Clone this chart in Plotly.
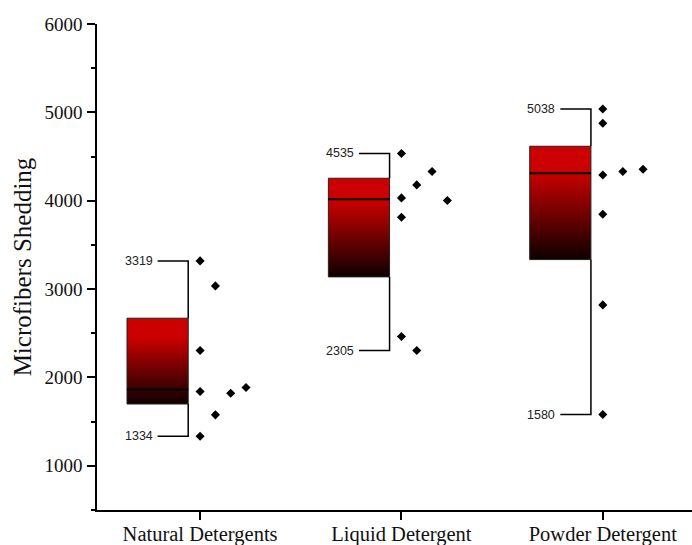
import numpy as np
import plotly.graph_objects as go

# ---- data ----
categories = ["Natural Detergents", "Liquid Detergent", "Powder Detergent"]
natural_values = [3319, 3036, 2305, 1841, 1822, 1886, 1577, 1334]
liquid_values = [4535, 4330, 4179, 4032, 4002, 3813, 2463, 2305]
powder_values = [5038, 4877, 4292, 4330, 4356, 3847, 2821, 1580]
y_ticks = [1000, 2000, 3000, 4000, 5000, 6000]

# swarm column index of each point (layout only)
natural_cols = [0, 1, 0, 0, 2, 3, 1, 0]
liquid_cols = [0, 2, 1, 0, 3, 0, 0, 1]
powder_cols = [0, 0, 0, 1.31, 2.63, 0, 0, 0]

groups = [natural_values, liquid_values, powder_values]
group_cols = [natural_cols, liquid_cols, powder_cols]

# ---- styling / layout constants ----
BOX_SHIFT = -0.211      # box centre relative to category tick
BOX_HALF = 0.152
PT_OFFSET = 0.211       # first point column relative to box centre
COL_STEP = 0.076
SERIF = "Liberation Serif, Times New Roman, serif"
SANS = "Liberation Sans, Arial, sans-serif"
GRAD = [[0, "#0e0000"], [0.78, "#cc0000"], [1, "#cc0000"]]


def hinges(vals):
    s = np.sort(np.asarray(vals, dtype=float))
    n = len(s)
    lower = s[: n // 2]
    upper = s[(n + 1) // 2:]
    return np.median(lower), np.median(s), np.median(upper), s[0], s[-1]


fig = go.Figure()
annotations = []

for i, (vals, cols) in enumerate(zip(groups, group_cols)):
    q1, med, q3, lo, hi = hinges(vals)
    c = i + BOX_SHIFT
    left, right = c - BOX_HALF, c + BOX_HALF
    # gradient box
    fig.add_trace(go.Scatter(
        x=[left, right, right, left, left], y=[q1, q1, q3, q3, q1],
        mode="lines", fill="toself",
        line=dict(color="#222222", width=1),
        fillgradient=dict(type="vertical", colorscale=GRAD, start=q1, stop=q3),
        hoverinfo="skip", showlegend=False))
    # median
    fig.add_trace(go.Scatter(
        x=[left, right], y=[med, med], mode="lines",
        line=dict(color="black", width=2), hoverinfo="skip", showlegend=False))
    # whiskers (right side, caps to the left)
    fig.add_trace(go.Scatter(
        x=[c, right, right, None, right, right, c],
        y=[hi, hi, q3, None, q1, lo, lo], mode="lines",
        line=dict(color="black", width=1.5), hoverinfo="skip", showlegend=False))
    # data points
    fig.add_trace(go.Scatter(
        x=[c + PT_OFFSET + k * COL_STEP for k in cols], y=vals, mode="markers",
        marker=dict(symbol="diamond", size=7, color="black"),
        showlegend=False))
    for v in (hi, lo):
        annotations.append(dict(
            x=c, y=v, xref="x", yref="y", text=f"{int(v)}", showarrow=False,
            xanchor="right", yanchor="middle", xshift=-3,
            font=dict(family=SANS, size=12.5, color="#222222")))

fig.update_layout(
    width=692, height=545,
    margin=dict(l=97, r=0, t=24, b=35),
    paper_bgcolor="white", plot_bgcolor="white",
    showlegend=False,
    annotations=annotations,
    xaxis=dict(
        range=[-0.512, 2.443], tickvals=list(range(len(categories))),
        ticktext=categories, showgrid=False, zeroline=False,
        showline=True, linecolor="black", linewidth=1.5,
        ticks="outside", ticklen=8, tickwidth=1.5, tickcolor="black",
        automargin=False, ticklabelstandoff=-3,
        tickfont=dict(family=SERIF, size=20.5, color="#111111")),
    yaxis=dict(
        range=[500, 6000], tickvals=y_ticks, showgrid=False, zeroline=False,
        showline=True, linecolor="black", linewidth=1.5,
        ticks="outside", ticklen=8, tickwidth=1.5, tickcolor="black",
        ticklabelstandoff=1, automargin=False,
        minor=dict(dtick=500, ticks="outside", ticklen=4, tickwidth=1.5,
                   tickcolor="black"),
        tickfont=dict(family=SERIF, size=19, color="#111111"),
        title=dict(text="Microfibers Shedding", standoff=6,
                   font=dict(family=SERIF, size=25, color="#111111"))),
)

fig.write_html(
    "out.html",
    config={"displayModeBar": False},
    post_script="document.body.style.margin='0';document.body.style.overflow='hidden';")
